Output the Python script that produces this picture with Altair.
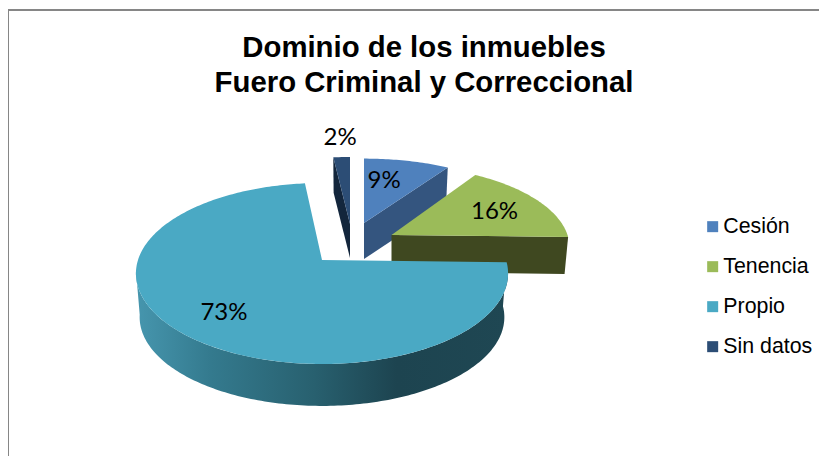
import math
import altair as alt

# Data
categories = ["Cesión", "Tenencia", "Propio", "Sin datos"]
values = [9.0, 16.4, 72.9, 1.7]
colors = ["#4f81bd", "#9bbb59", "#4aa9c4", "#2c4d75"]
wall_colors = ["#34557f", "#3f4820", None, "#13263c"]
title_lines = ["Dominio de los inmuebles", "Fuero Criminal y Correccional"]
FONT = "Liberation Sans"

# Exploded 3-D look: apex of each slice, radii, depth (plot pixels)
PERSP = 0.149
SHRINK = 0.98
apex_x = [356, 383.5, 314, 342]
apex_y = [215, 227, 252, 216]
radius_a = [176, 176, 184, 180]
radius_b = [74, 80, 88.5, 77]
depth = [36, 37, 44, 34]
label_r = [0.7, 0.71, 0.7, 1.3]
label_dx = [-10, 0, 0, 1]


def rim(i, deg, r=1.0, low=False):
    t = math.radians(deg)
    u, v = math.sin(t), math.cos(t)
    d = 1 + PERSP * v
    dx, dy = r * radius_a[i] * u / d, -r * radius_b[i] * v / d
    if low:
        return [apex_x[i] + SHRINK * dx, apex_y[i] + depth[i] + SHRINK * dy]
    return [apex_x[i] + dx, apex_y[i] + dy]


def feature(ring, **props):
    ring = ring + [ring[0]]
    return {"type": "Feature", "properties": props,
            "geometry": {"type": "Polygon", "coordinates": [ring]}}


def steps(a, b):
    n = max(2, int(abs(b - a)))
    return [a + (b - a) * k / n for k in range(n + 1)]


starts, ends, acc = [], [], 0.0
for v in values:
    starts.append(acc * 3.6)
    acc += v
    ends.append(acc * 3.6)

# Top faces, back to front
tops = []
for i in [3, 0, 1, 2]:
    apex = [apex_x[i], apex_y[i]]
    arc = [rim(i, d) for d in steps(starts[i], ends[i])]
    tops.append(feature([apex] + arc, name=categories[i]))

# Flat cut faces of the three small slices
cut_angle = {0: ends[0], 1: ends[1], 3: starts[3]}
walls = []
for i, deg in cut_angle.items():
    ring = [[apex_x[i], apex_y[i]], rim(i, deg), rim(i, deg, low=True),
            [apex_x[i], apex_y[i] + depth[i]]]
    walls.append(feature(ring, fill=wall_colors[i]))

# Curved outer wall of the large slice
arc_deg = steps(starts[2], 263)
outer = [rim(2, d) for d in arc_deg] + [rim(2, d, low=True) for d in reversed(arc_deg)]
outer_wall = [feature(outer, name="outer")]

labels = []
for i, cat in enumerate(categories):
    mid = (starts[i] + ends[i]) / 2
    x, y = rim(i, mid, r=label_r[i])
    labels.append({"lon": x + label_dx[i], "lat": y, "text": f"{round(values[i])}%"})

proj = alt.Projection(type="identity", scale=1, translate=[0, 0])

frame_top = alt.Chart(alt.Data(values=[{}])).mark_rule(color="#868686", strokeWidth=2).encode(
    x=alt.value(0), x2=alt.value(811), y=alt.value(2))
frame_left = alt.Chart(alt.Data(values=[{}])).mark_rule(color="#868686", strokeWidth=2).encode(
    x=alt.value(0), y=alt.value(1), y2=alt.value(448))

wall_layer = alt.Chart(alt.Data(values=walls)).mark_geoshape(strokeWidth=0).encode(
    fill=alt.Fill("properties.fill:N", scale=None), tooltip=alt.value(None)).project(**proj.to_dict())

gradient = alt.Gradient(
    gradient="linear", x1=0, x2=1, y1=0, y2=0,
    stops=[alt.GradientStop(color="#4696ae", offset=0.0),
           alt.GradientStop(color="#347a8e", offset=0.2),
           alt.GradientStop(color="#28606f", offset=0.48),
           alt.GradientStop(color="#1d4450", offset=0.7),
           alt.GradientStop(color="#1f4753", offset=1.0)])
outer_layer = alt.Chart(alt.Data(values=outer_wall)).mark_geoshape(
    fill=gradient, strokeWidth=0).project(**proj.to_dict())

top_layer = alt.Chart(alt.Data(values=tops)).mark_geoshape(strokeWidth=0).encode(
    color=alt.Color(
        "properties.name:N",
        scale=alt.Scale(domain=categories, range=colors),
        legend=alt.Legend(
            title=None, orient="none", legendX=694, legendY=208,
            symbolType="square", symbolSize=121, symbolStrokeWidth=0,
            labelFont=FONT, labelFontSize=21.33, labelColor="#000000",
            labelOffset=0, rowPadding=18, padding=0,
        ),
    )
).project(**proj.to_dict())

label_layer = alt.Chart(alt.Data(values=labels)).mark_text(
    font="Lato", fontSize=24, color="#000000", align="center", baseline="middle", dy=1.5
).encode(longitude="lon:Q", latitude="lat:Q", text="text:N").project(**proj.to_dict())

chart = alt.layer(frame_top, frame_left, wall_layer, outer_layer, top_layer, label_layer).properties(
    width=811, height=448, padding=0,
    autosize=alt.AutoSizeParams(type="none"),
    title=alt.TitleParams(
        text=title_lines, font=FONT, fontSize=29.33, fontWeight="bold", color="#000000",
        anchor="start", align="center", dx=416, dy=94, lineHeight=35, frame="group",
    ),
).configure_view(stroke=None).resolve_scale(color="independent")

chart.save("out.html", embed_options={"renderer": "svg", "actions": False})
